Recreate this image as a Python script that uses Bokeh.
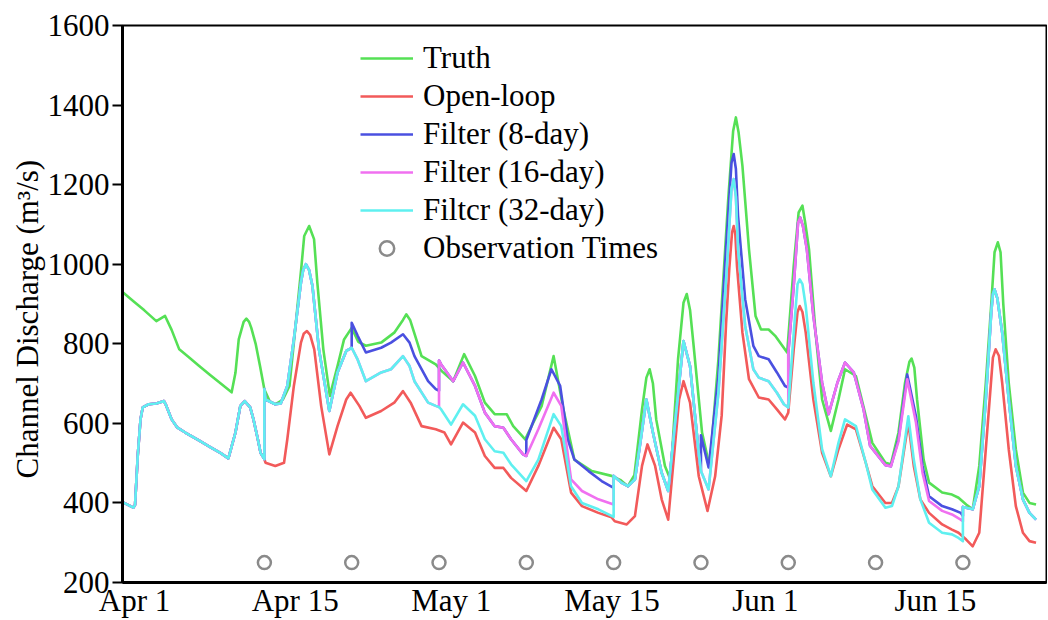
from bokeh.plotting import figure
from bokeh.models import Range1d, FixedTicker, Legend, LegendItem, Title
from bokeh.embed import file_html
from bokeh.resources import INLINE

# ---------------- data (day index from the left edge, discharge m3/s) ----------------
tick_days = [1.1, 15.82, 30.13, 44.85, 58.91, 74.47]
tick_labels = ["Apr 1", "Apr 15", "May 1", "May 15", "Jun 1", "Jun 15"]
y_ticks = [200, 400, 600, 800, 1000, 1200, 1400, 1600]

obs_days = [13, 21, 29, 37, 45, 53, 61, 69, 77]
obs_q = [250, 250, 250, 250, 250, 250, 250, 250, 250]

truth_x = [0, 1, 2, 3.1, 3.9, 4.5, 5.2, 6, 7, 8, 9, 10, 10.35, 10.65, 11.1, 11.35, 11.6, 11.8, 12.2, 12.6,
           13.0, 13.5, 14.0, 14.7, 15.3, 15.8, 16.4, 16.65, 17.1, 17.55, 17.85, 18.4, 19.0, 19.7, 20.3,
           21.0, 21.6, 22.3, 23.7, 24.9, 25.7, 26.0, 26.35, 26.7, 27.4, 28.7, 29.3, 30.3, 31.3, 32.3,
           33.2, 34.1, 35.2, 35.8, 36.9, 37.6, 38.4, 39.5, 40.4, 41.4, 43.0, 44.8, 45.6, 46.3, 46.9,
           47.6, 48.0, 48.3, 48.6, 48.9, 49.7, 50.2, 50.9, 51.4, 51.7, 52.0, 52.3, 53.1, 53.8, 54.6,
           55.5, 55.95, 56.2, 56.45, 56.8, 57.4, 58.0, 58.5, 59.2, 59.8, 60.9, 61.5, 61.95, 62.3,
           62.55, 62.9, 63.5, 64.1, 64.9, 65.6, 66.2, 67.2, 68.1, 68.7, 69.9, 70.4, 71.1, 71.7, 72.1,
           72.3, 72.55, 72.8, 73.4, 73.9, 75.1, 76.0, 76.6, 77.3, 77.9, 78.5, 79.1, 79.6, 79.9, 80.2,
           80.45, 80.7, 81.2, 81.85, 82.5, 83.1, 83.7]
truth_y = [930, 907, 884, 857, 870, 835, 786, 768, 745, 722, 700, 678, 727, 811, 855, 863, 855, 840, 800, 744,
           685, 655, 648, 660, 694, 830, 996, 1071, 1096, 1063, 954, 786, 669, 744, 811,
           840, 805, 795, 803, 828, 860, 874, 860, 830, 769, 748, 730, 706, 774, 719,
           652, 623, 623, 593, 560, 600, 643, 769, 635, 509, 480, 468, 458, 442, 470,
           635, 715, 736, 700, 610, 493, 459, 761, 903, 925, 885, 803, 577, 490, 761,
           1164, 1335, 1369, 1331, 1247, 1038, 870, 836, 836, 820, 778, 996, 1130, 1147,
           1105, 1038, 828, 660, 581, 660, 736, 719, 619, 551, 501, 497, 577, 702, 755,
           763, 740, 660, 509, 451, 426, 421, 413, 396, 384, 493, 702, 900, 1030, 1055,
           1030, 900, 702, 535, 426, 400, 396]

# shared model run before the first observation (open-loop and all filters)
pre_x = [0, 1.0, 1.15, 1.4, 1.65, 1.85, 2.4, 3.1, 3.8, 4.0, 4.5, 5.0, 5.75, 7, 8, 9, 9.7, 10.35, 10.8,
         11.2, 11.7, 12.0, 12.4, 12.65, 13.0]
pre_y = [402, 388, 395, 520, 610, 640, 648, 650, 656, 645, 610, 590, 577, 557, 541, 525, 512, 577, 644,
         656, 640, 610, 560, 526, 510]

# open-loop after the first observation time
ol_x = [13.1, 14.0, 14.8, 15.1, 15.7, 16.35, 16.6, 16.9, 17.2, 17.57, 18.2, 18.95, 19.7, 20.5, 20.9,
        21.7, 22.3, 23.7, 24.9, 25.7, 26.4, 27.4, 28.7, 29.5, 30.1, 31.2, 32.3, 33.2, 34.1, 34.9,
        35.6, 37.0, 38.1, 39.5, 40.2, 41.1, 42.1, 43.6, 44.8, 45.1, 46.2, 46.95, 47.6, 48.1, 48.8,
        49.4, 50.0, 50.5, 51.0, 51.4, 52.0, 52.8, 53.6, 54.3, 54.9, 55.3, 55.6, 55.85, 56.0, 56.15,
        56.3, 56.8, 57.4, 58.3, 59.2, 59.96, 60.7, 61.0, 61.5, 61.85, 62.05, 62.3, 62.6, 63.3, 64.1,
        64.9, 65.6, 66.4, 67.2, 68.1, 68.7, 69.9, 70.5, 71.1, 72.0, 72.5, 73.1, 73.9, 75.1, 76.0,
        76.6, 77.3, 77.9, 78.5, 79.1, 79.75, 80.0, 80.3, 80.6, 81.2, 81.85, 82.5, 83.1, 83.7]
ol_y = [501, 493, 501, 560, 694, 803, 825, 832, 822, 786, 644, 522, 593, 660, 677,
        644, 614, 631, 652, 681, 652, 593, 585, 577, 547, 602, 577, 518, 488, 488,
        463, 430, 493, 589, 560, 426, 392, 375, 364, 354, 346, 367, 493, 547, 493,
        409, 358, 509, 660, 706, 652, 467, 380, 467, 620, 850, 990, 1080, 1096, 1075,
        996, 828, 711, 665, 660, 635, 610, 627, 786, 880, 895, 880, 828, 660, 526,
        467, 535, 597, 585, 501, 442, 400, 400, 442, 602, 493, 409, 375, 346, 333,
        325, 308, 291, 325, 535, 765, 786, 770, 702, 535, 392, 325, 304, 300]

# all filters, day 13 -> 21
a_x = [13.0, 13.1, 14.0, 14.5, 15.1, 15.7, 16.35, 16.55, 16.8, 17.1, 17.4, 18.0, 18.95, 19.7, 20.5, 21.0]
a_y = [686, 660, 648, 650, 694, 811, 954, 985, 1000, 985, 946, 786, 631, 728, 782, 790]
# 8-day filter, day 21 -> 29
bb_x = [21.0, 21.55, 22.3, 23.7, 24.6, 25.7, 26.3, 26.75, 28.0, 28.7, 29.0]
bb_y = [853, 820, 778, 790, 803, 824, 803, 769, 706, 686, 682]
# 16- and 32-day filters, day 21 -> 29
cmb_x = [21.0, 21.55, 22.3, 23.7, 24.6, 25.7, 26.3, 26.75, 28.0, 28.7, 29.0]
cmb_y = [790, 760, 706, 728, 736, 769, 744, 706, 652, 644, 641]
# 8- and 16-day filters, day 29 -> 37
bmc_x = [29.0, 29.2, 30.3, 31.2, 32.3, 33.2, 34.1, 34.9, 35.6, 36.7, 37.0]
bmc_y = [758, 748, 706, 753, 694, 627, 593, 589, 560, 522, 518]
# 8-day filter, day 37 -> 45
bd_x = [37.0, 38.4, 39.3, 40.1, 40.8, 41.4, 42.7, 43.9, 45.0]
bd_y = [558, 660, 736, 694, 560, 509, 480, 455, 438]
# 16-day filter, day 37 -> 45
md_x = [37.0, 38.1, 39.5, 40.2, 41.1, 42.1, 43.6, 45.0]
md_y = [518, 585, 677, 644, 459, 430, 409, 396]
# 32-day filter, day 29 -> 45
ccd_x = [29.0, 29.2, 30.1, 31.2, 32.3, 33.2, 34.1, 34.9, 35.6, 37.0, 38.1, 39.5, 40.2, 41.1, 42.1, 43.6, 45.0]
ccd_y = [641, 635, 597, 648, 619, 560, 530, 526, 497, 455, 509, 623, 593, 442, 400, 384, 365]
# all filters, day 45 -> 53
e_x = [45.0, 45.7, 46.3, 46.95, 47.4, 48.0, 48.6, 49.4, 50.0, 50.6, 51.4, 52.0, 52.8, 53.0]
e_y = [468, 451, 442, 459, 543, 660, 577, 476, 430, 593, 807, 744, 526, 480]
# 8-day filter, day 53 -> 61
bf_x = [53.0, 53.7, 54.6, 55.3, 55.8, 56.0, 56.2, 56.4, 57.05, 57.8, 58.3, 59.2, 59.96, 60.7, 61.0]
bf_y = [570, 489, 719, 1040, 1255, 1277, 1240, 1121, 912, 795, 769, 761, 728, 694, 690]
# 16- and 32-day filters, day 53 -> 61
mcf_x = [53.0, 53.7, 54.6, 55.3, 55.8, 56.0, 56.2, 56.4, 57.05, 57.8, 58.3, 59.2, 59.96, 60.6, 61.0]
mcf_y = [480, 434, 677, 960, 1190, 1214, 1170, 1038, 845, 736, 715, 706, 677, 648, 640]
# 8- and 16-day filters, day 61 -> 70
bmg_x = [61.0, 61.5, 61.9, 62.1, 62.35, 62.7, 63.3, 64.1, 64.7, 65.5, 66.2, 67.0, 67.9, 68.5, 69.9, 70.4]
bmg_y = [775, 946, 1105, 1117, 1095, 1038, 870, 702, 623, 702, 753, 728, 635, 543, 495, 492]
# 8-day filter, day 70 -> 77
bh_x = [70.4, 71.1, 71.9, 72.7, 73.3, 73.9, 75.1, 76.0, 76.8, 77.0]
bh_y = [492, 560, 723, 618, 493, 417, 392, 384, 375, 367]
# 16-day filter, day 70 -> 77
mh_x = [70.4, 71.1, 71.9, 72.7, 73.3, 73.9, 75.1, 76.0, 76.8, 77.0]
mh_y = [492, 555, 711, 602, 476, 405, 380, 371, 358, 354]
# 32-day filter, day 61 -> 77
cg_x = [61.0, 61.5, 61.85, 62.05, 62.3, 62.6, 63.3, 64.1, 64.9, 65.6, 66.2, 67.2, 68.1, 68.7, 69.9,
        70.5, 71.1, 72.0, 72.5, 73.1, 73.9, 75.1, 76.0, 76.6, 77.0]
cg_y = [640, 828, 950, 962, 950, 895, 702, 535, 467, 551, 610, 593, 501, 434, 388,
        392, 442, 618, 509, 409, 350, 325, 321, 312, 304]
# all filters, day 77 -> end
i_x = [77.0, 77.9, 78.5, 79.1, 79.6, 79.75, 79.9, 80.15, 80.6, 81.2, 81.85, 82.5, 83.1, 83.7]
i_y = [390, 384, 442, 660, 880, 925, 937, 915, 828, 660, 493, 409, 375, 358]


def join(*parts):
    out = []
    for part in parts:
        out += part
    return out


open_x, open_y = join(pre_x, ol_x), join(pre_y, ol_y)
f8_x = join(pre_x, a_x, bb_x, bmc_x, bd_x, e_x, bf_x, bmg_x, bh_x, i_x)
f8_y = join(pre_y, a_y, bb_y, bmc_y, bd_y, e_y, bf_y, bmg_y, bh_y, i_y)
f16_x = join(pre_x, a_x, cmb_x, bmc_x, md_x, e_x, mcf_x, bmg_x, mh_x, i_x)
f16_y = join(pre_y, a_y, cmb_y, bmc_y, md_y, e_y, mcf_y, bmg_y, mh_y, i_y)
f32_x = join(pre_x, a_x, cmb_x, ccd_x, e_x, mcf_x, cg_x, i_x)
f32_y = join(pre_y, a_y, cmb_y, ccd_y, e_y, mcf_y, cg_y, i_y)

# ---------------- figure ----------------
FONT = "'Liberation Serif', 'Times New Roman', serif"
FS = "31px"

p = figure(width=1047, height=620, output_backend="svg", toolbar_location=None,
           x_range=Range1d(0, 84.66), y_range=Range1d(200, 1600),
           min_border_left=122, min_border_right=1, min_border_top=25, min_border_bottom=35)
p.grid.visible = False
p.outline_line_color = "black"
p.outline_line_width = 2
p.background_fill_color = "white"

xa = p.xaxis[0]
xa.ticker = FixedTicker(ticks=tick_days)
xa.major_label_overrides = {d: l for d, l in zip(tick_days, tick_labels)}
xa.major_tick_out = 0
xa.major_tick_in = 0
xa.minor_tick_out = 0
xa.minor_tick_in = 0
xa.axis_line_width = 3
xa.major_label_standoff = 0
xa.major_label_text_font = FONT
xa.major_label_text_font_size = FS
xa.major_label_text_color = "black"

ya = p.yaxis[0]
ya.ticker = FixedTicker(ticks=y_ticks)
ya.major_tick_out = 10
ya.major_tick_in = 0
ya.major_tick_line_width = 2
ya.minor_tick_out = 0
ya.minor_tick_in = 0
ya.axis_line_width = 3
ya.major_label_standoff = 3
ya.major_label_text_font = FONT
ya.major_label_text_font_size = FS
ya.major_label_text_color = "black"

LW = 2.6
r_truth = p.line(truth_x, truth_y, line_color="#55e055", line_width=LW, line_join="round")
r_open = p.line(open_x, open_y, line_color="#f25a5a", line_width=LW, line_join="round")
r_f8 = p.line(f8_x, f8_y, line_color="#4a50e0", line_width=LW, line_join="round")
r_f16 = p.line(f16_x, f16_y, line_color="#f070f0", line_width=LW, line_join="round")
r_f32 = p.line(f32_x, f32_y, line_color="#5ff0f0", line_width=LW, line_join="round")
r_obs = p.scatter(obs_days, obs_q, marker="circle", size=13, line_color="#8a8a8a",
                  line_width=2.5, fill_color=None)

legend = Legend(items=[
    LegendItem(label="Truth", renderers=[r_truth]),
    LegendItem(label="Open-loop", renderers=[r_open]),
    LegendItem(label="Filter (8-day)", renderers=[r_f8]),
    LegendItem(label="Filter (16-day)", renderers=[r_f16]),
    LegendItem(label="Filtcr (32-day)", renderers=[r_f32]),
    LegendItem(label="Observation Times", renderers=[r_obs]),
], location=(238, 316), orientation="vertical")
legend.border_line_color = None
legend.background_fill_alpha = 0
legend.padding = 0
legend.margin = 0
legend.spacing = 2
legend.glyph_width = 53
legend.glyph_height = 36
legend.label_height = 36
legend.label_standoff = 10
legend.label_text_font = FONT
legend.label_text_font_size = FS
legend.label_text_color = "black"
p.add_layout(legend)

ylab = Title(text="Channel Discharge (m³/s)", align="left", offset=104, standoff=0,
             text_font=FONT, text_font_size=FS, text_font_style="normal", text_color="black")
p.add_layout(ylab, "left")

open("out.html", "w").write(file_html(p, INLINE))
